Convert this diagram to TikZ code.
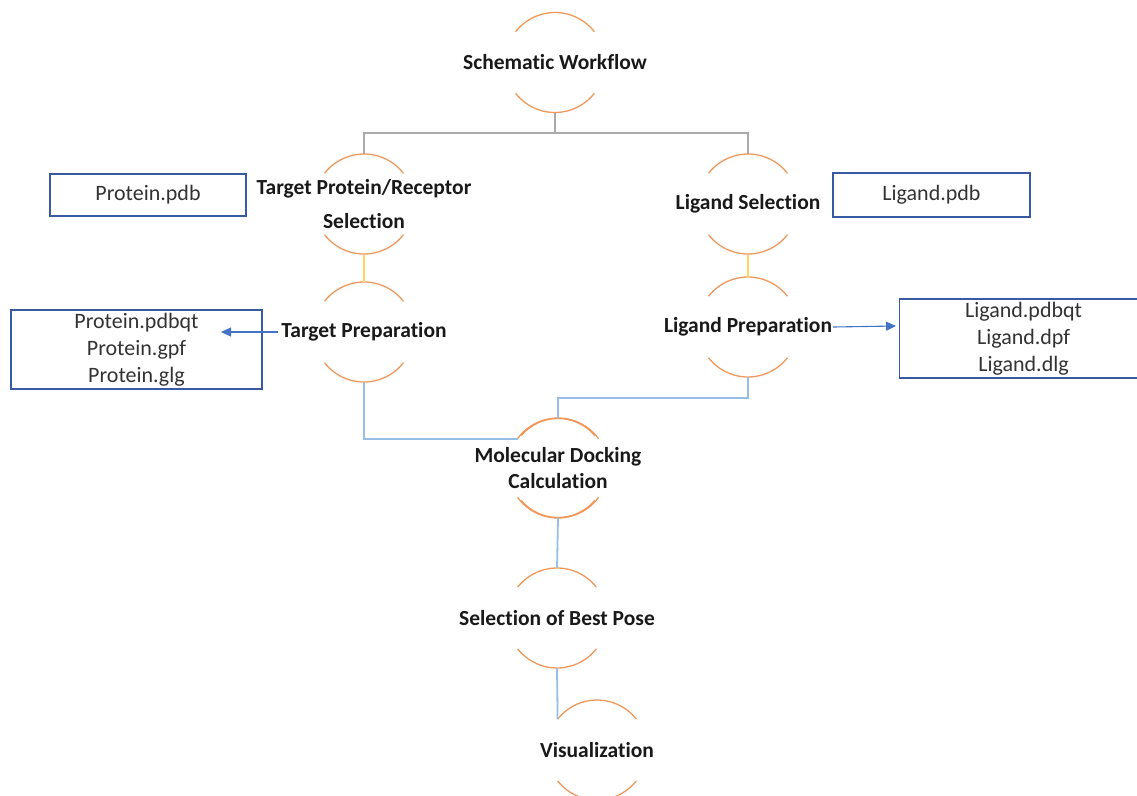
\documentclass[tikz,border=0pt]{standalone}
\usepackage{fontspec}
\setmainfont{Carlito}[Ligatures=NoCommon]
\usetikzlibrary{arrows.meta}
\definecolor{arcor}{RGB}{240,152,92}
\definecolor{lgray}{RGB}{170,170,170}
\definecolor{lyel}{RGB}{255,212,90}
\definecolor{lblue}{RGB}{150,190,230}
\definecolor{ablue}{RGB}{68,114,196}
\definecolor{bblue}{RGB}{55,90,160}
\tikzset{
  stage/.style={font=\fontsize{21.5}{26}\selectfont\bfseries, align=center, inner sep=1pt, text=black!90},
  filebox/.style={draw=bblue, line width=1.1pt, font=\fontsize{22}{27}\selectfont, align=center, inner sep=0pt, text=black!80},
  arcline/.style={draw=arcor, line width=1.3pt},
  grayline/.style={draw=lgray, line width=1.3pt},
  yelline/.style={draw=lyel, line width=1.6pt},
  bluline/.style={draw=lblue, line width=1.8pt},
  arrline/.style={draw=ablue, line width=1.1pt, -{Triangle[length=10pt,width=9pt]}}
}
\newcommand\stagearcs[1]{%
  \draw[arcline] ([shift={(38:50pt)}]#1.center) arc[start angle=38, end angle=142, radius=50pt];
  \draw[arcline] ([shift={(218:50pt)}]#1.center) arc[start angle=218, end angle=322, radius=50pt];
}
\begin{document}
\begin{tikzpicture}[x=1pt,y=1pt]
\useasboundingbox (0,0) rectangle (1137,-795);
% stages
\node[stage] (sw) at (555,-62.5) {Schematic Workflow};
\node[stage] (tps) at (364,-204) {Target Protein/Receptor\\[8pt] Selection};
\node[stage] (ls) at (748,-204) {Ligand Selection};
\node[stage] (tp) at (364,-332) {Target Preparation};
\node[stage] (lp) at (748,-327) {Ligand Preparation};
\node[stage] (md) at (558,-468) {Molecular Docking\\ Calculation};
\node[stage] (bp) at (557,-618) {Selection of Best Pose};
\node[stage] (vi) at (597,-750) {Visualization};
\stagearcs{sw}
\stagearcs{tps}
\stagearcs{ls}
\stagearcs{tp}
\stagearcs{lp}
\stagearcs{bp}
\stagearcs{vi}
% docking: doubled arcs
\draw[arcline] ([shift={(36:50pt)}]md.center) arc[start angle=36, end angle=144, radius=50pt];
\draw[arcline] ([shift={(40:48pt)}]md.center) ++(0,1.5) arc[start angle=40, end angle=140, radius=48pt];
\draw[arcline] ([shift={(216:50pt)}]md.center) arc[start angle=216, end angle=324, radius=50pt];
\draw[arcline] ([shift={(220:48pt)}]md.center) ++(0,-1.5) arc[start angle=220, end angle=320, radius=48pt];
% file boxes
\node[filebox, minimum width=196pt, minimum height=42pt] (ppdb) at (148,-195) {Protein.pdb};
\node[filebox, minimum width=197pt, minimum height=44pt] (lpdb) at (931.5,-195) {Ligand.pdb};
\node[filebox, minimum width=251pt, minimum height=79pt] (pout) at (136.5,-349.5) {Protein.pdbqt\\ Protein.gpf\\ Protein.glg};
\node[filebox, minimum width=248pt, minimum height=79pt, anchor=west] (lout) at (899,-338.5) {Ligand.pdbqt\\ Ligand.dpf\\ Ligand.dlg};
% connectors
\draw[grayline] ([yshift=-50pt]sw.center) -- ++(0,-20.5) -| ([yshift=50pt]tps.center);
\draw[grayline] ([yshift=-50pt]sw.center) ++(0,-20.5) -| ([yshift=50pt]ls.center);
\draw[yelline] ([yshift=-51pt]tps.center) -- ([yshift=50pt]tp.center);
\draw[yelline] ([yshift=-51pt]ls.center) -- ([yshift=49pt]lp.center);
\draw[bluline] ([yshift=-50pt]tp.center) |- ([shift={(144:50pt)}]md.center);
\draw[bluline] ([yshift=-50pt]lp.center) -- ++(0,-21) -| ([yshift=50pt]md.center);
\draw[bluline] ([yshift=-50pt]md.center) -- ([yshift=50pt]bp.center);
\draw[bluline] ([yshift=-50pt]bp.center) -- ([shift={(142:50pt)}]vi.center);
% arrows
\coordinate (ptip) at (221,-332);
\coordinate (ltip) at (896,-326);
\draw[arrline] (tp.west) ++(-2,0) -- (ptip);
\draw[arrline] (lp.east) -- (ltip);
\end{tikzpicture}
\end{document}
